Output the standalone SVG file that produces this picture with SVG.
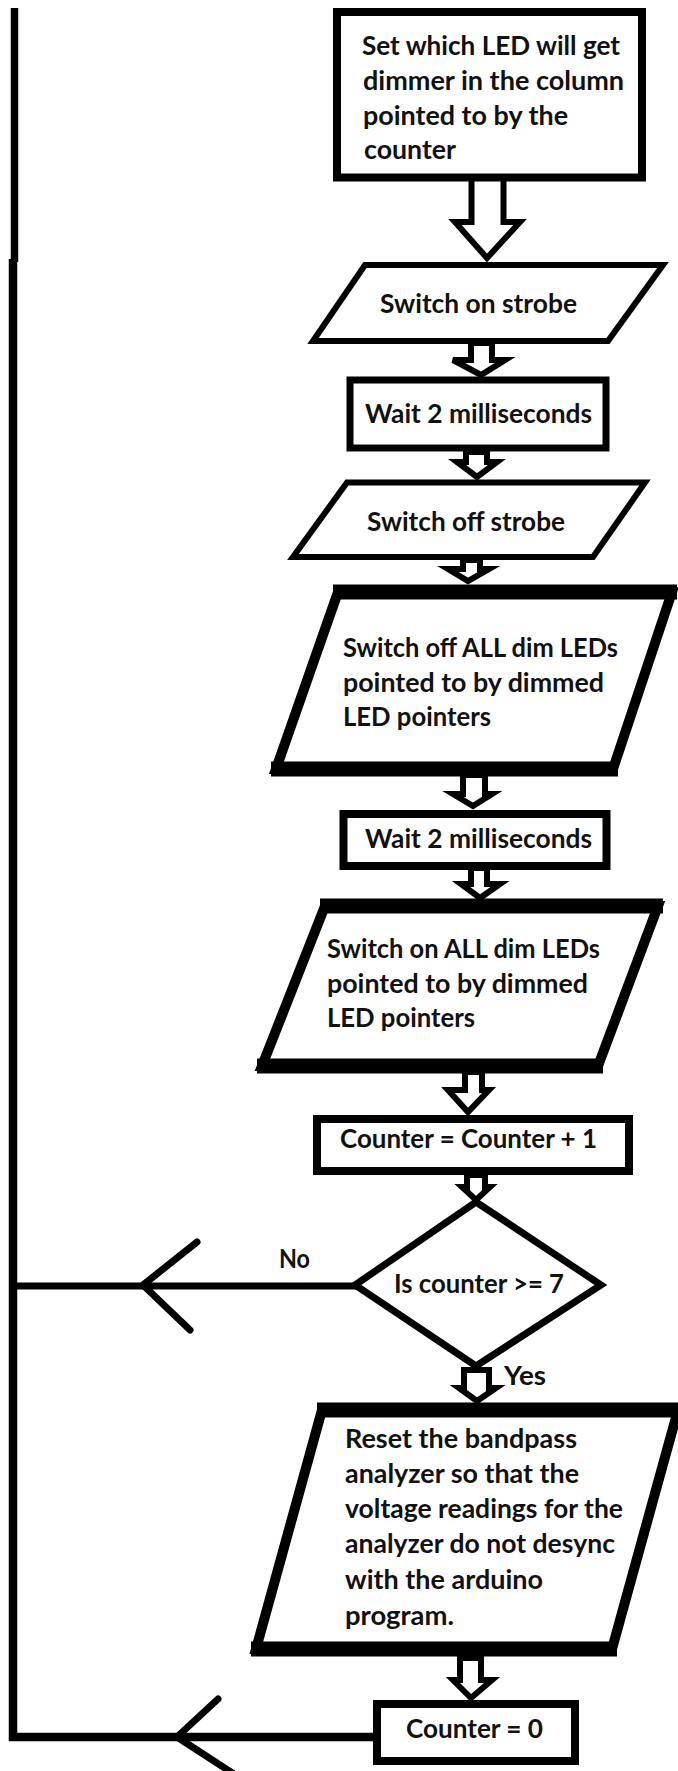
<svg xmlns="http://www.w3.org/2000/svg" width="678" height="1771" viewBox="0 0 678 1771">
<style>
.bg{fill:#fff}
.n{fill:#fff;stroke:#000;stroke-linejoin:miter}
.e{stroke:#000;stroke-width:15;stroke-linecap:butt}
.t{font-family:Lato,"Liberation Sans",sans-serif;font-weight:bold;font-size:26.5px;fill:#111}
.c{fill:none;stroke:#000;stroke-linecap:butt}
.ah{fill:none;stroke:#000;stroke-width:7;stroke-linecap:round;stroke-linejoin:round}
.ba{fill:#fff;stroke:#000;stroke-width:6;stroke-linejoin:miter}
</style>
<rect class="bg" x="0" y="0" width="678" height="1771"/>
<g id="connectors">
<line class="c" x1="14.5" y1="8" x2="14.5" y2="262" stroke-width="7.5"/>
<polyline class="c" points="13,259 13,1737 377,1737" stroke-width="8.5" stroke-linejoin="miter"/>
<line class="c" x1="13" y1="1286" x2="356" y2="1286" stroke-width="7"/>
<polyline class="ah" points="197,1242 143,1285 190,1330"/>
<polyline class="ah" points="218,1699 177,1737 240,1778" stroke-width="8"/>
<polygon class="ba" stroke-width="7" points="471.5,178 471.5,222 455,222 487,258 520,222 503.5,222 503.5,178"/>
<polygon class="ba" points="471,343 471,360 453,360 481,375 505,360 492,360 492,343"/>
<polygon class="ba" points="466,452 466,462 457,462 477,477 497,462 487,462 487,452"/>
<polygon class="ba" points="463,560 463,569 448,569 468,581 489,569 480,569 480,560"/>
<polygon class="ba" points="463,775 463,794 453,794 473,806 492,794 485,794 485,775"/>
<polygon class="ba" points="471,868 471,884 461,884 480,898 500,884 487,884 487,868"/>
<polygon class="ba" points="465,1072 465,1090 448,1090 468,1112 489,1090 482,1090 482,1072"/>
<polygon class="ba" points="467,1175 467,1187 462,1187 476,1200 490,1187 485,1187 485,1175"/>
<polygon class="ba" points="464,1370 464,1388 459,1388 477,1401 496,1388 489,1388 489,1370"/>
<polygon class="ba" points="460,1658 460,1680 453,1680 471,1698 492,1680 481,1680 481,1658"/>
<text class="t" x="279" y="1268" textLength="31" lengthAdjust="spacingAndGlyphs">No</text>
<text class="t" x="504" y="1385" textLength="42" lengthAdjust="spacingAndGlyphs">Yes</text>
</g>
<g id="set-led">
<rect class="n" x="337" y="12" width="305" height="165.5" stroke-width="8"/>
<text class="t" x="362" y="55" textLength="258" lengthAdjust="spacingAndGlyphs">Set which LED will get</text>
<text class="t" x="363" y="90" textLength="261" lengthAdjust="spacingAndGlyphs">dimmer in the column</text>
<text class="t" x="363" y="124.5" textLength="205" lengthAdjust="spacingAndGlyphs">pointed to by the</text>
<text class="t" x="364" y="159" textLength="92" lengthAdjust="spacingAndGlyphs">counter</text>
</g>
<g id="strobe-on">
<polygon class="n" stroke-width="6" points="365,265 663,265 608,341 313,341"/>
<text class="t" x="380" y="313" textLength="197" lengthAdjust="spacingAndGlyphs">Switch on strobe</text>
</g>
<g id="wait-1">
<rect class="n" x="350" y="380" width="256" height="68" stroke-width="7"/>
<text class="t" x="365" y="423" textLength="227" lengthAdjust="spacingAndGlyphs">Wait 2 milliseconds</text>
</g>
<g id="strobe-off">
<polygon class="n" stroke-width="6" points="347,482.5 645,482.5 593,557 293,557"/>
<text class="t" x="367" y="531" textLength="198" lengthAdjust="spacingAndGlyphs">Switch off strobe</text>
</g>
<g id="dim-off">
<polygon class="n" stroke-width="10" points="338,592 672,592 613,769 276,769"/>
<line class="e" x1="333" y1="592" x2="677" y2="592"/>
<line class="e" x1="271" y1="769" x2="618" y2="769"/>
<text class="t" x="343" y="657" textLength="275" lengthAdjust="spacingAndGlyphs">Switch off ALL dim LEDs</text>
<text class="t" x="343" y="692" textLength="261" lengthAdjust="spacingAndGlyphs">pointed to by dimmed</text>
<text class="t" x="343" y="726" textLength="148" lengthAdjust="spacingAndGlyphs">LED pointers</text>
</g>
<g id="wait-2">
<rect class="n" x="343.5" y="814" width="263" height="52" stroke-width="8"/>
<text class="t" x="365" y="848" textLength="227" lengthAdjust="spacingAndGlyphs">Wait 2 milliseconds</text>
</g>
<g id="dim-on">
<polygon class="n" stroke-width="10" points="325,906 658,906 598,1066 262,1066"/>
<line class="e" x1="320" y1="906" x2="663" y2="906"/>
<line class="e" x1="257" y1="1066" x2="603" y2="1066"/>
<text class="t" x="327" y="958" textLength="273" lengthAdjust="spacingAndGlyphs">Switch on ALL dim LEDs</text>
<text class="t" x="327" y="993" textLength="261" lengthAdjust="spacingAndGlyphs">pointed to by dimmed</text>
<text class="t" x="327" y="1027" textLength="148" lengthAdjust="spacingAndGlyphs">LED pointers</text>
</g>
<g id="increment">
<rect class="n" x="317" y="1119" width="312" height="52" stroke-width="8"/>
<text class="t" x="340" y="1148" textLength="257" lengthAdjust="spacingAndGlyphs">Counter = Counter + 1</text>
</g>
<g id="decision">
<polygon class="n" stroke-width="7" points="476,1202 601,1285 476,1366 355,1285"/>
<text class="t" x="394" y="1293" textLength="170" lengthAdjust="spacingAndGlyphs">Is counter &gt;= 7</text>
</g>
<g id="reset">
<polygon class="n" stroke-width="10" points="322,1410 678,1410 612,1649 256,1649"/>
<line class="e" x1="317" y1="1410" x2="678" y2="1410" stroke-width="16"/>
<line class="e" x1="251" y1="1649" x2="617" y2="1649" stroke-width="16"/>
<text class="t" x="345" y="1448" textLength="232" lengthAdjust="spacingAndGlyphs">Reset the bandpass</text>
<text class="t" x="345" y="1483" textLength="234" lengthAdjust="spacingAndGlyphs">analyzer so that the</text>
<text class="t" x="345" y="1518" textLength="278" lengthAdjust="spacingAndGlyphs">voltage readings for the</text>
<text class="t" x="345" y="1553" textLength="270" lengthAdjust="spacingAndGlyphs">analyzer do not desync</text>
<text class="t" x="345" y="1589" textLength="198" lengthAdjust="spacingAndGlyphs">with the arduino</text>
<text class="t" x="345" y="1625" textLength="109" lengthAdjust="spacingAndGlyphs">program.</text>
</g>
<g id="reset-counter">
<rect class="n" x="377" y="1704" width="198" height="57" stroke-width="8"/>
<text class="t" x="406" y="1738" textLength="137" lengthAdjust="spacingAndGlyphs">Counter = 0</text>
</g>
</svg>
